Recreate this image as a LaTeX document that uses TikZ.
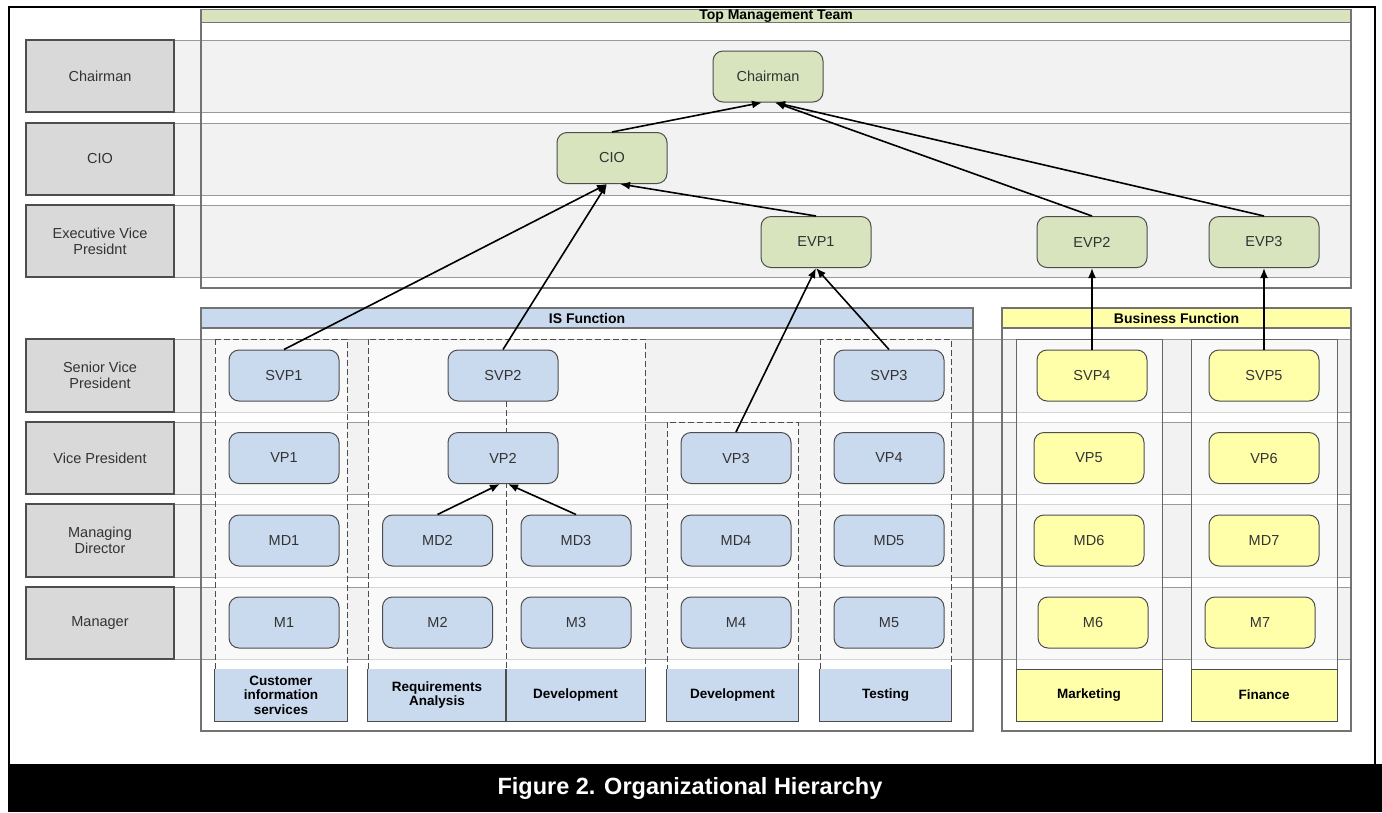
\documentclass[tikz,border=0pt]{standalone}
\usepackage{fontspec}
\setmainfont{Liberation Sans}
\usetikzlibrary{arrows.meta}
\definecolor{mgmtgreen}{HTML}{D7E4BD}
\definecolor{isblue}{HTML}{C9D9EE}
\definecolor{bizyellow}{HTML}{FFFFAA}
\definecolor{lanegray}{HTML}{D9D9D9}
\definecolor{bandgray}{HTML}{F2F2F2}
\definecolor{edgegray}{HTML}{4D4D4D}

\begin{document}
\begin{tikzpicture}[
                  x = 1pt,
                  y = -1pt,
  every node/.style = {font=\fontsize{14.5}{16}\selectfont, text=black!80, inner sep=0pt},
     lanelbl/.style = {draw=edgegray, line width=1.2pt, fill=lanegray, minimum width=148pt, minimum height=72pt, align=center},
        band/.style = {draw=black!40, line width=0.9pt, fill=bandgray},
       panel/.style = {draw=black!55, line width=1.2pt},
      colbox/.style = {draw=black!70, dash pattern=on 6pt off 3pt, line width=1pt, fill=white, fill opacity=0.6},
      bizcol/.style = {draw=black!60, line width=1pt, fill=white, fill opacity=0.6},
        role/.style = {draw=edgegray, line width=1pt, rounded corners=10pt, minimum width=110pt, minimum height=51pt},
      header/.style = {font=\bfseries\fontsize{14}{16}\selectfont, text=black},
     unitlbl/.style = {font=\bfseries\fontsize{13.5}{14.5}\selectfont, text=black, align=center, minimum height=52pt},
     lbledge/.style = {draw=edgegray, line width=1pt},
     divider/.style = {draw=black!70, dash pattern=on 6pt off 3pt, line width=1pt},
        post/.style = {-{Latex[length=10pt,width=8pt]}, line width=1.6pt},
                    ]
\useasboundingbox (0,0) rectangle (1382,812);

% frame and caption
\draw[line width=2.5pt] (9,7) rectangle (1375,765);
\fill[black] (8,764) rectangle (1382,812);
\node[font=\bfseries\fontsize{23.5}{26}\selectfont, text=white] (caption) at (690,788) {Figure 2. Organizational Hierarchy};

% top lanes
\draw[band] (26,40) rectangle (1351,112);
\draw[band] (26,123) rectangle (1351,195);
\draw[band] (26,205) rectangle (1351,277);
\node[lanelbl] (lchair) at (100,76) {Chairman};
\node[lanelbl] (lcio) at (100,159) {CIO};
\node[lanelbl] (levp) at (100,241) {Executive Vice\\Presidnt};
\draw[panel] (201,9.5) rectangle (1351,288);
\draw[panel, fill=mgmtgreen] (201,9.5) rectangle (1351,22.5);
\node[header] (tmt) at (776,16) {Top Management Team};

% lower lanes
\draw[band] (26,339) rectangle (1351,412);
\draw[band] (26,422) rectangle (1351,494);
\draw[band] (26,504) rectangle (1351,577);
\draw[band] (26,587) rectangle (1351,659);
\node[lanelbl, minimum height=73pt] (lsvp) at (100,375.5) {Senior Vice\\President};
\node[lanelbl] (lvp) at (100,458) {Vice President};
\node[lanelbl, minimum height=73pt] (lmd) at (100,540.5) {Managing\\Director};
\node[lanelbl] (lm) at (100,623) {Manager};

% IS function
\draw[colbox] (215,339) rectangle (347,669);
\draw[colbox] (368,339) rectangle (645,669);
\draw[colbox] (667,422) rectangle (798,669);
\draw[colbox] (820,339) rectangle (951,669);
\draw[panel] (201,308) rectangle (973,731);
\draw[panel, fill=isblue] (201,308) rectangle (973,328);
\node[header] (isf) at (587,318) {IS Function};
\node[unitlbl, fill=isblue, minimum width=132pt] (uCIS) at (281,695) {Customer\\information\\services};
\node[unitlbl, fill=isblue, minimum width=138pt] (uRA) at (437,695) {Requirements\\Analysis};
\node[unitlbl, fill=isblue, minimum width=139pt] (uDev1) at (575.5,695) {Development};
\node[unitlbl, fill=isblue, minimum width=131pt] (uDev2) at (732.5,695) {Development};
\node[unitlbl, fill=isblue, minimum width=131pt] (uTest) at (885.5,695) {Testing};
\foreach \u in {uCIS,uRA,uDev1,uDev2,uTest}
  \draw[lbledge] (\u.north west) |- (\u.south east) -- (\u.north east);

% business function
\draw[bizcol] (1016,339) rectangle (1162,721);
\draw[bizcol] (1191,339) rectangle (1337,721);
\draw[panel] (1002,308) rectangle (1351,731);
\draw[panel, fill=bizyellow] (1002,308) rectangle (1351,328);
\node[header] (bizf) at (1176.5,318) {Business Function};
\node[unitlbl, draw=edgegray, line width=1pt, fill=bizyellow, minimum width=146pt] (uMkt) at (1089,695) {Marketing};
\node[unitlbl, draw=edgegray, line width=1pt, fill=bizyellow, minimum width=146pt] (uFin) at (1264,695) {Finance};

% split below SVP2
\coordinate (splittop) at (506,401);
\coordinate (splitbot) at (506,669);
\draw[divider] (splittop) -- (splitbot);

% top management
\node[role, fill=mgmtgreen] (Chairman) at (768,76.5) {Chairman};
\node[role, fill=mgmtgreen] (CIO) at (612,158) {CIO};
\node[role, fill=mgmtgreen] (EVP1) at (816,242) {EVP1};
\node[role, fill=mgmtgreen] (EVP2) at (1092,242) {EVP2};
\node[role, fill=mgmtgreen] (EVP3) at (1264,242) {EVP3};

% IS roles
\node[role, fill=isblue] (SVP1) at (284,375.5) {SVP1};
\node[role, fill=isblue] (VP1) at (284,458) {VP1};
\node[role, fill=isblue] (MD1) at (284,540.5) {MD1};
\node[role, fill=isblue] (M1) at (284,622.5) {M1};
\node[role, fill=isblue] (SVP2) at (503,375.5) {SVP2};
\node[role, fill=isblue] (VP2) at (503,458) {VP2};
\node[role, fill=isblue] (MD2) at (437.5,540.5) {MD2};
\node[role, fill=isblue] (M2) at (437.5,622.5) {M2};
\node[role, fill=isblue] (MD3) at (576,540.5) {MD3};
\node[role, fill=isblue] (M3) at (576,622.5) {M3};
\node[role, fill=isblue] (VP3) at (736,458) {VP3};
\node[role, fill=isblue] (MD4) at (736,540.5) {MD4};
\node[role, fill=isblue] (M4) at (736,622.5) {M4};
\node[role, fill=isblue] (SVP3) at (889,375.5) {SVP3};
\node[role, fill=isblue] (VP4) at (889,458) {VP4};
\node[role, fill=isblue] (MD5) at (889,540.5) {MD5};
\node[role, fill=isblue] (M5) at (889,622.5) {M5};

% business roles
\node[role, fill=bizyellow] (SVP4) at (1092,375.5) {SVP4};
\node[role, fill=bizyellow] (VP5) at (1089,458) {VP5};
\node[role, fill=bizyellow] (MD6) at (1089,540.5) {MD6};
\node[role, fill=bizyellow] (M6) at (1093,622.5) {M6};
\node[role, fill=bizyellow] (SVP5) at (1264,375.5) {SVP5};
\node[role, fill=bizyellow] (VP6) at (1264,458) {VP6};
\node[role, fill=bizyellow] (MD7) at (1264,540.5) {MD7};
\node[role, fill=bizyellow] (M7) at (1260,622.5) {M7};

% reporting lines
\draw[post] (CIO.north) -- ([xshift=-6pt]Chairman.south);
\draw[post] (EVP2.north) -- ([xshift=7pt]Chairman.south);
\draw[post] (EVP3.north) -- ([xshift=7pt]Chairman.south);
\draw[post] (SVP1.north) -- ([xshift=-5pt]CIO.south);
\draw[post] (SVP2.north) -- ([xshift=-5pt]CIO.south);
\draw[post] (EVP1.north) -- ([xshift=8pt]CIO.south);
\draw[post] (VP3.north) -- (EVP1.south);
\draw[post] (SVP3.north) -- (EVP1.south);
\draw[post] (SVP4.north) -- (EVP2.south);
\draw[post] (SVP5.north) -- (EVP3.south);
\draw[post] (MD2.north) -- ([xshift=-3pt]VP2.south);
\draw[post] (MD3.north) -- ([xshift=5pt]VP2.south);
\end{tikzpicture}
\end{document}
